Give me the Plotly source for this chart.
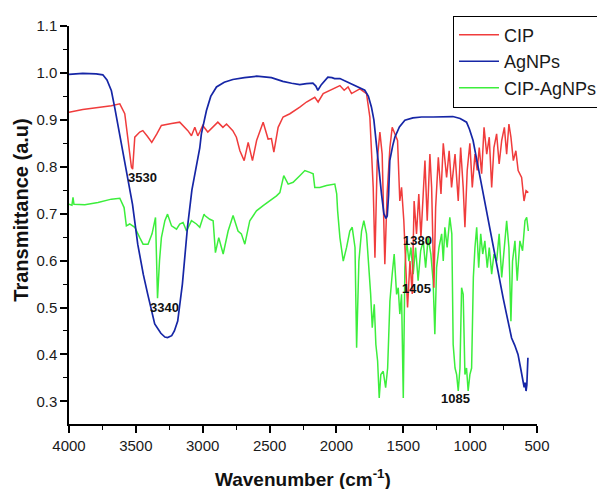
import plotly.graph_objects as go

# ---------------- data ----------------
wn_agnps = [4000, 3897, 3797, 3747, 3716, 3683, 3658, 3615, 3561, 3525, 3486, 3444, 3411, 3359,
            3313, 3283, 3263, 3232, 3212, 3187, 3152, 3114, 3081, 3047, 3022, 3010, 2972, 2940,
            2897, 2839, 2775, 2688, 2597, 2486, 2401, 2335, 2274, 2224, 2176, 2154, 2139, 2113,
            2083, 2064, 2033, 2014, 1974, 1915, 1851, 1788, 1761, 1738, 1720, 1700, 1680, 1663,
            1645, 1630, 1620, 1610, 1601, 1579, 1563, 1529, 1488, 1428, 1363, 1277, 1189, 1129,
            1075, 1027, 1005, 978, 954, 926, 904, 876, 853, 827, 803, 778, 753, 728, 707, 690,
            667, 642, 622, 612, 605, 596, 589, 582, 576, 571, 568]
t_agnps = [0.997, 0.999, 0.998, 0.996, 0.985, 0.962, 0.926, 0.86, 0.777, 0.72, 0.635, 0.57, 0.528, 0.465,
           0.445, 0.437, 0.436, 0.44, 0.45, 0.471, 0.55, 0.671, 0.75, 0.80, 0.84, 0.87, 0.92, 0.95,
           0.97, 0.98, 0.986, 0.99, 0.993, 0.99, 0.982, 0.978, 0.975, 0.977, 0.978, 0.972, 0.963, 0.975,
           0.985, 0.991, 0.99, 0.988, 0.988, 0.98, 0.972, 0.963, 0.95, 0.927, 0.9, 0.85, 0.79, 0.742,
           0.70, 0.69, 0.695, 0.74, 0.813, 0.845, 0.863, 0.885, 0.899, 0.904, 0.906, 0.906, 0.907, 0.907,
           0.903, 0.895, 0.88, 0.856, 0.82, 0.777, 0.745, 0.706, 0.665, 0.628, 0.595, 0.557, 0.52, 0.486, 0.46, 0.435,
           0.42, 0.40, 0.37, 0.355, 0.35, 0.33, 0.34, 0.322, 0.335, 0.36, 0.393]

wn_cip = [4000, 3897, 3797, 3683, 3620, 3583, 3561, 3533, 3524, 3508, 3471, 3448, 3414, 3381, 3343,
          3309, 3233, 3172, 3111, 3084, 3059, 3037, 3022, 3000, 2962, 2925, 2887, 2849, 2822, 2775,
          2748, 2722, 2690, 2660, 2628, 2597, 2548, 2511, 2486, 2468, 2436, 2399, 2348, 2274, 2224,
          2162, 2137, 2099, 2025, 1974, 1942, 1913, 1887, 1825, 1775, 1750, 1725, 1712, 1695, 1675,
          1658, 1638, 1621, 1600, 1583, 1563, 1543, 1526, 1513, 1496, 1483, 1468, 1450, 1433, 1419,
          1401, 1384, 1368, 1351, 1338, 1321, 1301, 1288, 1271, 1258, 1238, 1218, 1201, 1176, 1157,
          1139, 1113, 1089, 1071, 1052, 1039, 1022, 1002, 984, 964, 947, 932, 914, 896, 876, 857,
          839, 822, 802, 783, 764, 744, 727, 710, 695, 677, 658, 641, 615, 597, 582, 565]
t_cip = [0.916, 0.922, 0.926, 0.930, 0.934, 0.913, 0.863, 0.799, 0.795, 0.863, 0.874, 0.877, 0.865, 0.852, 0.87,
         0.888, 0.892, 0.895, 0.877, 0.866, 0.884, 0.866, 0.874, 0.888, 0.874, 0.884, 0.895, 0.884, 0.891, 0.877,
         0.863, 0.834, 0.813, 0.852, 0.813, 0.856, 0.895, 0.859, 0.86, 0.831, 0.884, 0.906, 0.913, 0.927, 0.938,
         0.948, 0.938, 0.956, 0.966, 0.973, 0.963, 0.970, 0.956, 0.966, 0.956, 0.906, 0.756, 0.606, 0.813, 0.874,
         0.827, 0.592, 0.742, 0.841, 0.884, 0.870, 0.856, 0.727, 0.756, 0.685, 0.578, 0.50, 0.599, 0.529, 0.727,
         0.657, 0.742, 0.649, 0.742, 0.813, 0.685, 0.827, 0.756, 0.542, 0.713, 0.82, 0.742, 0.85, 0.777, 0.834,
         0.756, 0.827, 0.727, 0.841, 0.756, 0.671, 0.792, 0.85, 0.756, 0.827, 0.792, 0.841, 0.785, 0.884, 0.827, 0.863,
         0.756, 0.841, 0.870, 0.806, 0.856, 0.884, 0.827, 0.891, 0.863, 0.813, 0.834, 0.792, 0.777, 0.727, 0.749, 0.745]

wn_cipag = [4000, 3978, 3970, 3963, 3882, 3783, 3683, 3620, 3588, 3571, 3546, 3508, 3471, 3446, 3409,
            3379, 3353, 3345, 3338, 3323, 3309, 3283, 3263, 3233, 3196, 3172, 3147, 3121, 3084, 3047,
            3022, 2990, 2984, 2947, 2922, 2905, 2880, 2847, 2810, 2773, 2736, 2711, 2685, 2648, 2598,
            2548, 2498, 2448, 2423, 2411, 2394, 2361, 2324, 2274, 2236, 2199, 2174, 2162, 2124, 2074,
            2012, 1998, 1991, 1974, 1949, 1924, 1900, 1882, 1861, 1849, 1832, 1812, 1795, 1775, 1757,
            1744, 1732, 1717, 1705, 1692, 1680, 1668, 1650, 1632, 1617, 1600, 1583, 1568, 1550, 1538,
            1526, 1513, 1500, 1488, 1475, 1458, 1443, 1426, 1408, 1389, 1370, 1351, 1333, 1314, 1294,
            1277, 1264, 1251, 1233, 1213, 1201, 1189, 1172, 1152, 1137, 1127, 1113, 1101, 1089, 1076,
            1064, 1052, 1039, 1027, 1015, 1002, 989, 976, 964, 951, 936, 921, 906, 890, 872, 857,
            839, 822, 802, 783, 764, 747, 727, 710, 695, 683, 665, 648, 628, 608, 590, 577, 565]
t_cipag = [0.72, 0.718, 0.735, 0.72, 0.719, 0.724, 0.731, 0.733, 0.713, 0.674, 0.678, 0.671, 0.649, 0.635, 0.635,
           0.657, 0.692, 0.62, 0.52, 0.6, 0.649, 0.685, 0.699, 0.674, 0.667, 0.678, 0.681, 0.663, 0.685, 0.678,
           0.671, 0.699, 0.696, 0.688, 0.685, 0.617, 0.649, 0.614, 0.663, 0.696, 0.663, 0.657, 0.635, 0.685, 0.706,
           0.717, 0.727, 0.738, 0.745, 0.763, 0.781, 0.763, 0.767, 0.781, 0.792, 0.788, 0.785, 0.756, 0.756, 0.760,
           0.763, 0.742, 0.706, 0.649, 0.599, 0.628, 0.663, 0.671, 0.628, 0.414, 0.599, 0.663, 0.685, 0.657, 0.585,
           0.528, 0.457, 0.507, 0.421, 0.386, 0.307, 0.357, 0.364, 0.329, 0.371, 0.514, 0.571, 0.614, 0.528, 0.542,
           0.486, 0.528, 0.307, 0.585, 0.642, 0.599, 0.628, 0.571, 0.628, 0.557, 0.621, 0.642, 0.585, 0.649, 0.614,
           0.557, 0.443, 0.585, 0.628, 0.657, 0.599, 0.671, 0.628, 0.692, 0.657, 0.421, 0.371, 0.357, 0.322, 0.371,
           0.542, 0.528, 0.357, 0.371, 0.322, 0.357, 0.371, 0.564, 0.628, 0.671, 0.585, 0.657, 0.614, 0.642, 0.585, 0.628,
           0.571, 0.614, 0.599, 0.657, 0.564, 0.628, 0.685, 0.628, 0.471, 0.599, 0.642, 0.557, 0.642, 0.621, 0.685, 0.692, 0.663]

peak_labels = ["3530", "3340", "1380", "1405", "1085"]
peak_x = [3447, 3287, 1395, 1398, 1106]
peak_y = [0.777, 0.50, 0.642, 0.54, 0.305]

colors = {"CIP": "#f03c3c", "AgNPs": "#1626a6", "CIP-AgNPs": "#3cee3c"}

FONT = "Liberation Sans, Arial, sans-serif"

fig = go.Figure()
# drawing order: green, red, blue (legend order kept with legendrank)
fig.add_trace(go.Scatter(x=wn_cipag, y=t_cipag, mode="lines", name="CIP-AgNPs", legendrank=3,
                         line=dict(color=colors["CIP-AgNPs"], width=1.5)))
fig.add_trace(go.Scatter(x=wn_cip, y=t_cip, mode="lines", name="CIP", legendrank=1,
                         line=dict(color=colors["CIP"], width=1.5)))
fig.add_trace(go.Scatter(x=wn_agnps, y=t_agnps, mode="lines", name="AgNPs", legendrank=2,
                         line=dict(color=colors["AgNPs"], width=1.7)))

for txt, px, py in zip(peak_labels, peak_x, peak_y):
    fig.add_annotation(x=px, y=py, xref="x", yref="y", text="<b>%s</b>" % txt, showarrow=False,
                       xanchor="center", yanchor="middle",
                       font=dict(family=FONT, size=13, color="#111111"))

fig.add_annotation(x=-0.103, y=0.538, xref="paper", yref="paper", text="<b>Transmittance (a.u)</b>",
                   textangle=-90, showarrow=False, xanchor="center", yanchor="middle",
                   font=dict(family=FONT, size=20, color="#111111"))
fig.add_annotation(x=0.50, y=-0.135, xref="paper", yref="paper",
                   text="<b>Wavenumber (cm<sup>-1</sup>)</b>", showarrow=False,
                   xanchor="center", yanchor="middle",
                   font=dict(family=FONT, size=19, color="#111111"))

fig.update_layout(
    width=597, height=481,
    margin=dict(l=61, r=68, t=18, b=65, autoexpand=False),
    plot_bgcolor="white", paper_bgcolor="white",
    font=dict(family=FONT, size=15, color="#1a1a1a"),
    showlegend=True,
    legend=dict(x=0.8205, y=1.026, xanchor="left", yanchor="top", bgcolor="white",
                bordercolor="black", borderwidth=1, font=dict(family=FONT, size=18, color="#1a1a1a"),
                itemwidth=40, tracegroupgap=0),
    xaxis=dict(range=[4000, 500], dtick=500, tick0=500, showline=True, linecolor="black", linewidth=1.5,
               ticks="outside", ticklen=7, tickwidth=1.5, tickcolor="black", showgrid=False, zeroline=False,
               mirror=False, tickfont=dict(size=15), automargin=False,
               minor=dict(dtick=250, tick0=500, ticks="outside", ticklen=4, tickwidth=1.2, tickcolor="black",
                          showgrid=False)),
    yaxis=dict(range=[0.2517, 1.1], dtick=0.1, tick0=0.3, tickformat=".1f", showline=True, linecolor="black",
               linewidth=1.5, ticks="outside", ticklen=7, tickwidth=1.5, tickcolor="black", showgrid=False,
               zeroline=False, tickfont=dict(size=15), automargin=False,
               minor=dict(dtick=0.05, tick0=0.25, ticks="outside", ticklen=4, tickwidth=1.2, tickcolor="black",
                          showgrid=False)),
)

fig.write_html("out.html")
